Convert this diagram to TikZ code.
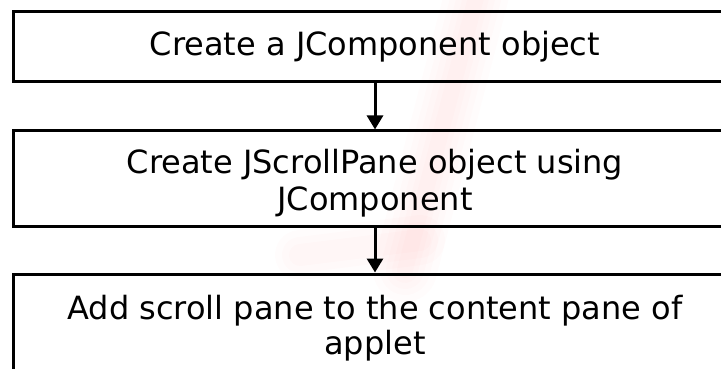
\documentclass[tikz,border=0pt]{standalone}
\usepackage{fontspec}
\setmainfont{DejaVu Sans}
\usetikzlibrary{arrows.meta}
\begin{document}
\begin{tikzpicture}[x=1pt,y=-1pt,
  stepbox/.style={draw=black, line width=3pt, minimum width=724pt, inner sep=0pt},
  steptext/.style={anchor=base, inner sep=0pt, font=\fontsize{32}{38}\selectfont},
  flow/.style={line width=3pt, -{Triangle[width=16pt,length=14pt]}}]
\useasboundingbox (0,0) rectangle (721,368);
\clip (0,0) rectangle (721,368);
\fill[white] (0,0) rectangle (721,368);
% faint, soft watermark
\foreach \w in {64,50,38,26,16} {
  \draw[red!80, opacity=0.012, line width=\w pt, line cap=round] (478,-10) -- (405,270);
}
\foreach \w in {50,36,22} {
  \draw[red!80, opacity=0.01, line width=\w pt, line cap=round] (300,255) -- (420,240);
}
\node[stepbox, minimum height=70.5pt] (b1) at (375,46.25) {};
\node[stepbox, minimum height=95.7pt] (b2) at (375,178.8) {};
\node[stepbox, minimum height=100pt] (b3) at (375,324) {};
\node[steptext] (t1) at (375,55) {Create a JComponent object};
\node[steptext] (t2a) at (375,173) {Create JScrollPane object using};
\node[steptext] (t2b) at (375,210) {JComponent};
\node[steptext] (t3a) at (375,319) {Add scroll pane to the content pane of};
\node[steptext] (t3b) at (375,354) {applet};
\draw[flow] (b1.south) -- (b2.north);
\draw[flow] (b2.south) -- (b3.north);
\end{tikzpicture}
\end{document}
